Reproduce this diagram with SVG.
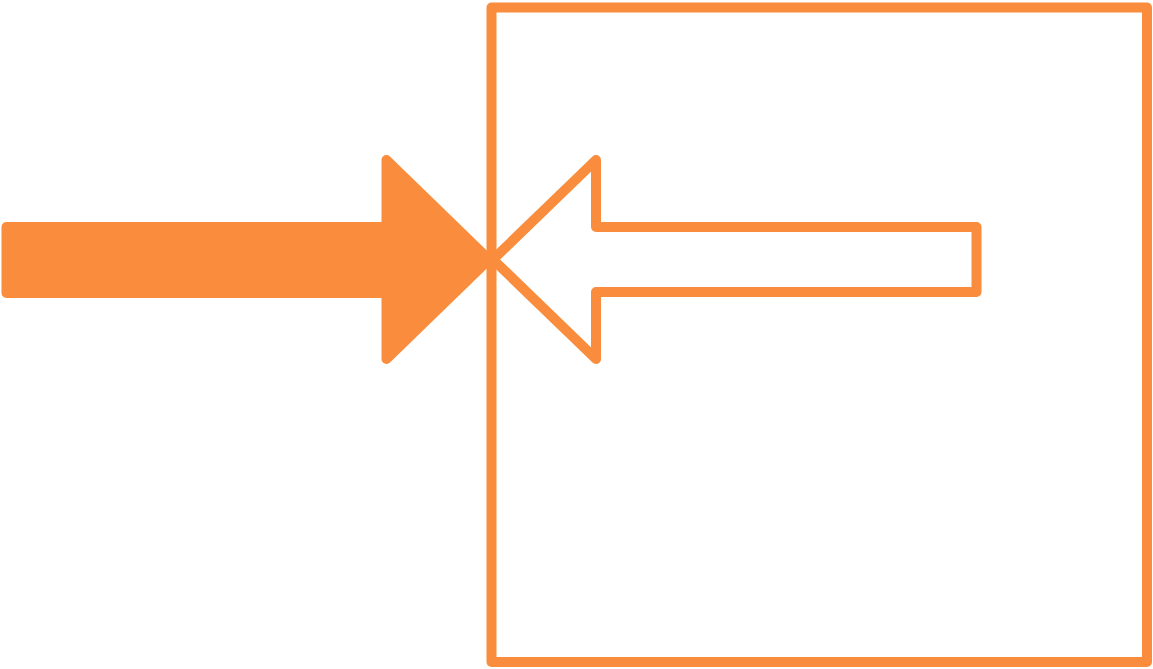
<svg xmlns="http://www.w3.org/2000/svg" width="1153" height="669" viewBox="0 0 1153 669">
<style>
.s{stroke:#F98D3D;stroke-width:10;stroke-linejoin:round;stroke-linecap:round}
.f{fill:#F98D3D}
.n{fill:none}
</style>
<rect width="1153" height="669" fill="#FFFFFF"/>
<g id="box"><rect class="s n" x="491.5" y="7.5" width="655.5" height="654.5"/></g>
<g id="connectors">
<path id="arrow-in" class="s f" d="M6.5,227 L386.5,227 L386.5,160 L489,259.5 L386.5,359 L386.5,293 L6.5,293 Z"/>
<path id="arrow-out" class="s n" d="M976.5,227 L596,227 L596,160 L493,259.5 L596,359 L596,292 L976.5,292 Z"/>
</g>
</svg>
